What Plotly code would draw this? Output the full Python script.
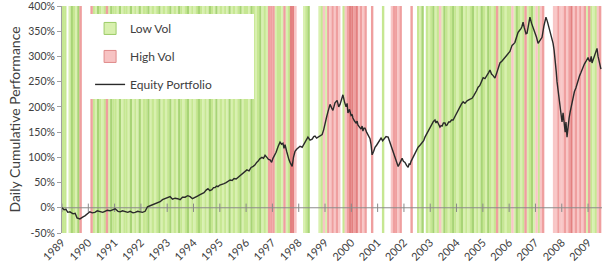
import plotly.graph_objects as go

# ---------------- data ----------------
years = list(range(1989, 2010))
tick_labels = [str(y) for y in years]
y_ticks = list(range(-50, 401, 50))
y_tick_labels = [f"{v}%" for v in y_ticks]

# monthly regime codes per year: g/G/D = low vol (light->dark), r/R/X = high vol (light->dark), '.' = none
regime_codes = [
    "GG.gDGgDR...",  # 1989
    ".RGgDGgGRgDG",  # 1990
    "GgDgGGgDgGgD",  # 1991
    "gGGDgGgGDgGg",  # 1992
    "GDgGgDGgGDgG",  # 1993
    "gGDGgGgDGgDg",  # 1994
    "GgGgDgGgGDgG",  # 1995
    "GgDGgGDgGgRR",  # 1996
    "RgGGgRgGXXr.",  # 1997
    "..gGD....gGr",  # 1998
    "gRrRrRr.GrRX",  # 1999
    "XRXrRrR..R..",  # 2000
    "..G...rRRrR.",  # 2001
    "...R..GgD.Gg",  # 2002
    "GDgGrgDGgGDG",  # 2003
    "gGDgGgGDgGgD",  # 2004
    "GgDGgGRgDGgG",  # 2005
    "GrgDGgGRgGDg",  # 2006
    "rGrR....rrRr",  # 2007
    "rRrRXrRrRrRg",  # 2008
    "RGgGrR",        # 2009
]

eq_x = [1989.00, 1989.08, 1989.15, 1989.22, 1989.30, 1989.42, 1989.50, 1989.57, 1989.68, 1989.74,
        1989.80, 1989.87, 1989.99, 1990.06, 1990.15, 1990.25, 1990.34, 1990.44, 1990.55, 1990.63,
        1990.72, 1990.83, 1990.94, 1991.02, 1991.13, 1991.21, 1991.30, 1991.40, 1991.50, 1991.59,
        1991.70, 1991.78, 1991.88, 1991.97, 1992.06, 1992.16, 1992.25, 1992.35, 1992.45, 1992.54,
        1992.63, 1992.73, 1992.82, 1992.92, 1993.02, 1993.11, 1993.20, 1993.30, 1993.40, 1993.49,
        1993.58, 1993.68, 1993.78, 1993.87, 1993.96, 1994.06, 1994.15, 1994.25, 1994.33, 1994.40,
        1994.48, 1994.55, 1994.62, 1994.70, 1994.76, 1994.82, 1994.88, 1994.93, 1995.00, 1995.08,
        1995.16, 1995.24, 1995.31, 1995.39, 1995.47, 1995.54, 1995.62, 1995.69, 1995.76, 1995.84,
        1995.93, 1996.03, 1996.11, 1996.19, 1996.27, 1996.34, 1996.40, 1996.45, 1996.52, 1996.60,
        1996.66, 1996.72, 1996.79, 1996.85, 1996.91, 1996.97, 1997.02, 1997.08, 1997.14, 1997.22,
        1997.29, 1997.35, 1997.40, 1997.44, 1997.48, 1997.54, 1997.59, 1997.63, 1997.67, 1997.71,
        1997.75, 1997.80, 1997.86, 1997.92, 1997.97, 1998.05, 1998.13, 1998.19, 1998.24, 1998.30,
        1998.35, 1998.43, 1998.51, 1998.57, 1998.62, 1998.68, 1998.73, 1998.81, 1998.89, 1998.95,
        1999.00, 1999.06, 1999.11, 1999.15, 1999.19, 1999.25, 1999.30, 1999.38, 1999.46, 1999.52,
        1999.57, 1999.63, 1999.68, 1999.74, 1999.80, 1999.84, 1999.87, 1999.93, 1999.99, 2000.03,
        2000.06, 2000.12, 2000.18, 2000.22, 2000.25, 2000.31, 2000.37, 2000.41, 2000.44, 2000.48,
        2000.52, 2000.58, 2000.63, 2000.67, 2000.71, 2000.75, 2000.79, 2000.85, 2000.90, 2000.96,
        2001.02, 2001.08, 2001.13, 2001.19, 2001.24, 2001.32, 2001.40, 2001.44, 2001.47, 2001.51,
        2001.55, 2001.60, 2001.66, 2001.72, 2001.78, 2001.82, 2001.85, 2001.89, 2001.93, 2001.98,
        2002.04, 2002.10, 2002.16, 2002.20, 2002.23, 2002.27, 2002.31, 2002.36, 2002.42, 2002.48,
        2002.54, 2002.61, 2002.69, 2002.75, 2002.80, 2002.86, 2002.92, 2003.00, 2003.07, 2003.12,
        2003.18, 2003.22, 2003.26, 2003.32, 2003.37, 2003.41, 2003.45, 2003.50, 2003.56, 2003.60,
        2003.64, 2003.70, 2003.75, 2003.81, 2003.87, 2003.95, 2004.02, 2004.07, 2004.13, 2004.19,
        2004.25, 2004.32, 2004.40, 2004.50, 2004.59, 2004.65, 2004.70, 2004.76, 2004.82, 2004.88,
        2004.93, 2004.97, 2005.01, 2005.08, 2005.16, 2005.22, 2005.27, 2005.33, 2005.39, 2005.43,
        2005.46, 2005.52, 2005.58, 2005.62, 2005.65, 2005.73, 2005.81, 2005.87, 2005.92, 2005.97,
        2006.03, 2006.07, 2006.11, 2006.16, 2006.22, 2006.28, 2006.34, 2006.40, 2006.45, 2006.49,
        2006.53, 2006.57, 2006.60, 2006.64, 2006.68, 2006.73, 2006.79, 2006.85, 2006.91, 2006.95,
        2006.98, 2007.04, 2007.10, 2007.14, 2007.17, 2007.21, 2007.25, 2007.32, 2007.40, 2007.46,
        2007.52, 2007.55, 2007.59, 2007.63, 2007.67, 2007.71, 2007.75, 2007.79, 2007.82, 2007.86,
        2007.90, 2007.94, 2007.97, 2008.01, 2008.05, 2008.09, 2008.13, 2008.16, 2008.20, 2008.22,
        2008.24, 2008.28, 2008.32, 2008.37, 2008.43, 2008.48, 2008.54, 2008.58, 2008.62, 2008.68,
        2008.73, 2008.77, 2008.81, 2008.86, 2008.92, 2008.96, 2009.00, 2009.04, 2009.08, 2009.12,
        2009.15, 2009.21, 2009.27, 2009.31, 2009.34, 2009.38, 2009.42, 2009.46, 2009.49]
eq_y = [0, -4, -3, -9, -8, -12, -11, -20, -22, -19,
        -18, -16, -10, -8, -10, -9, -6, -8, -9, -7,
        -5, -6, -4, -2, -7, -8, -6, -7, -9, -7,
        -10, -9, -7, -8, -9, -7, 2, 4, 6, 8,
        10, 12, 16, 18, 20, 22, 17, 19, 18, 16,
        21, 21, 24, 22, 18, 20, 23, 26, 28, 30,
        35, 38, 34, 36, 40, 40, 43, 42, 45, 46,
        48, 50, 53, 55, 54, 58, 57, 60, 64, 66,
        70, 75, 73, 80, 82, 85, 90, 92, 97, 100,
        98, 104, 100, 96, 95, 90, 98, 104, 110, 122,
        130, 126, 128, 118, 125, 112, 100, 95, 90, 86,
        82, 100, 112, 116, 118, 122, 120, 126, 130, 137,
        140, 134, 136, 141, 142, 138, 140, 143, 145, 155,
        170, 180, 190, 198, 205, 198, 193, 208, 213, 200,
        205, 215, 224, 210, 200, 207, 188, 195, 183, 185,
        178, 172, 168, 172, 164, 160, 156, 162, 152, 158,
        158, 150, 145, 140, 137, 125, 105, 112, 120, 124,
        130, 135, 138, 133, 136, 141, 140, 134, 128, 120,
        115, 108, 100, 92, 82, 86, 90, 95, 98, 92,
        90, 84, 80, 88, 85, 92, 96, 102, 110, 114,
        120, 124, 128, 133, 140, 146, 150, 158, 168, 171,
        174, 168, 172, 164, 160, 163, 162, 168, 168, 163,
        164, 170, 170, 174, 174, 182, 190, 196, 200, 206,
        210, 207, 212, 215, 217, 222, 226, 232, 239, 242,
        248, 253, 258, 256, 262, 268, 273, 265, 262, 258,
        257, 266, 275, 282, 287, 291, 296, 300, 302, 306,
        310, 316, 322, 324, 328, 338, 348, 352, 355, 360,
        368, 358, 352, 345, 346, 362, 378, 366, 358, 350,
        350, 338, 326, 330, 332, 335, 338, 360, 378, 368,
        356, 345, 340, 330, 326, 312, 296, 270, 250, 232,
        215, 205, 195, 170, 188, 160, 150, 170, 140, 150,
        165, 178, 190, 205, 219, 230, 238, 246, 253, 262,
        268, 274, 279, 285, 290, 294, 298, 292, 290, 300,
        287, 296, 305, 310, 316, 300, 290, 282, 275]

y_min, y_max = -50, 400
x_min, x_max = 1989, 2009.53

# ---------------- styles ----------------
shade = {
    "g": "#d9f0b0", "G": "#c6e792", "D": "#a8d476",
    "r": "#f8c6c6", "R": "#ef9f9f", "X": "#e38080",
}
low_codes, high_codes = "gGD", "rRX"

low_x, low_c, high_x, high_c = [], [], [], []
for yr, codes in zip(years, regime_codes):
    for m, c in enumerate(codes):
        xc = yr + (m + 0.5) / 12
        if c in low_codes:
            low_x.append(xc); low_c.append(shade[c])
        elif c in high_codes:
            high_x.append(xc); high_c.append(shade[c])

fig = go.Figure()
for xs, cs in ((low_x, low_c), (high_x, high_c)):
    fig.add_trace(go.Bar(
        x=xs, y=[y_max - y_min] * len(xs), base=y_min, width=1.1 / 12,
        marker=dict(color=cs, line=dict(width=0)),
        showlegend=False, hoverinfo="skip"))

pad = "\u00a0" * 12
# legend entries
fig.add_trace(go.Bar(x=[None], y=[None], name="Low Vol", legendgroup="a",
                     marker=dict(color="#d8f0ae", line=dict(color="#9ccb68", width=1))))
fig.add_trace(go.Bar(x=[None], y=[None], name="High Vol", legendgroup="b",
                     marker=dict(color="#f7c3c3", line=dict(color="#e08a8a", width=1))))

# zero axis line with year ticks
fig.add_trace(go.Scatter(x=[x_min, x_max], y=[0, 0], mode="lines",
                         line=dict(color="#8a8a8a", width=1), showlegend=False, hoverinfo="skip"))
fig.add_trace(go.Scatter(x=years, y=[0] * len(years), mode="markers",
                         marker=dict(symbol="line-ns", size=6, line=dict(color="#8a8a8a", width=1)),
                         showlegend=False, hoverinfo="skip"))

fig.add_trace(go.Scatter(x=eq_x, y=eq_y, mode="lines", name="Equity Portfolio" + pad, legendgroup="c",
                         line=dict(color="#2a2a2a", width=1.4)))

fig.update_layout(
    width=605, height=267,
    margin=dict(l=62, r=3, t=6, b=34, autoexpand=False),
    paper_bgcolor="white", plot_bgcolor="white",
    barmode="overlay",
    font=dict(family="Lato, Open Sans, sans-serif", size=10, color="#404040"),
    legend=dict(x=0.052, y=0.965, xanchor="left", yanchor="top",
                bgcolor="white", borderwidth=0, tracegroupgap=9,
                font=dict(size=12, color="#404040"), traceorder="grouped",
                itemwidth=30),
    xaxis=dict(range=[x_min, x_max], tickvals=years, ticktext=tick_labels,
               tickangle=-45, showgrid=False, zeroline=False, showline=False,
               ticks="", tickfont=dict(size=11)),
    yaxis=dict(range=[y_min, y_max], tickvals=y_ticks, ticktext=y_tick_labels,
               showgrid=False, zeroline=False, ticklabeloverflow="allow",
               showline=True, linecolor="#a0a0a0", linewidth=1,
               ticks="outside", ticklen=4, tickcolor="#a0a0a0",
               title=dict(text="Daily Cumulative Performance", font=dict(size=14, color="#404040"),
                          standoff=4),
               tickfont=dict(size=10.5)),
)

fig.write_html("out.html")
